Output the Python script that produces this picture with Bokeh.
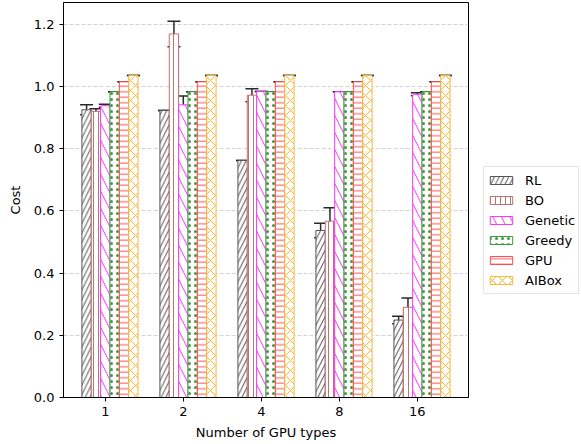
from bokeh.plotting import figure
from bokeh.layouts import row
from bokeh.models import (ColumnDataSource, Range1d, FixedTicker, Legend, LegendItem,
                          Whisker, TeeHead, PrintfTickFormatter)
from bokeh.embed import file_html
from bokeh.resources import INLINE

# ---- data ----
categories = ["1", "2", "4", "8", "16"]
methods = ["RL", "BO", "Genetic", "Greedy", "GPU", "AIBox"]

rl = [0.925, 0.923, 0.762, 0.537, 0.249]
rl_err = [0.016, 0.0, 0.0, 0.023, 0.012]
bo = [0.920, 1.169, 0.972, 0.567, 0.290]
bo_err = [0.008, 0.041, 0.021, 0.043, 0.030]
genetic = [0.938, 0.941, 0.984, 0.983, 0.975]
genetic_err = [0.005, 0.028, 0.0, 0.0, 0.005]
greedy = [0.983, 0.983, 0.983, 0.983, 0.983]
greedy_err = [0.0, 0.0, 0.0, 0.0, 0.0]
gpu = [1.015, 1.015, 1.015, 1.015, 1.015]
gpu_err = [0.0, 0.0, 0.0, 0.0, 0.0]
aibox = [1.035, 1.035, 1.035, 1.035, 1.035]
aibox_err = [0.0, 0.0, 0.0, 0.0, 0.0]

values = [rl, bo, genetic, greedy, gpu, aibox]
errors = [rl_err, bo_err, genetic_err, greedy_err, gpu_err, aibox_err]

# ---- styles ----
colors = ["#555555", "#c07070", "#ff33ff", "#3c9c3c", "#ff4d4d", "#ffb733"]
hatches = ["/", "|", "\\", ".", "-", "x"]
hatch_scales = [9.5, 5, 17, 6, 5.5, 10]
bar_w = 0.12
FONT = "DejaVu Sans"

p = figure(width=470, height=444, output_backend="svg", toolbar_location=None,
           x_range=Range1d(-0.536, 4.656), y_range=Range1d(0, 1.27),
           min_border_left=63, min_border_right=2, min_border_top=2,
           min_border_bottom=47)

p.outline_line_color = "black"
p.outline_line_alpha = 1
p.outline_line_width = 1
p.background_fill_color = "white"
p.border_fill_color = "white"

# legend-only panel on the right (no axes)
pl = figure(width=111, height=444, output_backend="svg", toolbar_location=None,
            x_range=Range1d(0, 1), y_range=Range1d(0, 1),
            x_axis_location=None, y_axis_location=None,
            min_border_left=0, min_border_right=0, min_border_top=0,
            min_border_bottom=0)
pl.grid.visible = False
pl.outline_line_color = None
pl.background_fill_color = "white"
pl.border_fill_color = "white"

items = []
for k, (name, vals, errs) in enumerate(zip(methods, values, errors)):
    xs = [i + (k - 2) * bar_w for i in range(len(categories))]
    src = ColumnDataSource(dict(
        x=xs, top=vals,
        upper=[v + e for v, e in zip(vals, errs)],
        lower=[v - e for v, e in zip(vals, errs)],
    ))
    style = dict(fill_color="white", line_color=colors[k], line_width=1,
                 hatch_pattern=hatches[k], hatch_color=colors[k],
                 hatch_scale=hatch_scales[k], hatch_weight=1)
    p.vbar(x="x", top="top", bottom=0, width=bar_w, source=src, **style)
    w = Whisker(base="x", upper="upper", lower="lower", source=src,
                dimension="height", line_color="#2a2a2a", line_width=1.5,
                upper_head=TeeHead(size=13, line_color="#2a2a2a", line_width=1.5),
                lower_head=TeeHead(size=13, line_color="#2a2a2a", line_width=1.5))
    p.add_layout(w)
    # proxy renderer (outside the visible range) carrying the legend swatch style
    proxy = pl.vbar(x=[5], top=[0], bottom=0, width=0.1, **style)
    items.append(LegendItem(label=name, renderers=[proxy]))

# axes
p.xaxis.ticker = FixedTicker(ticks=list(range(len(categories))))
p.xaxis.major_label_overrides = {i: c for i, c in enumerate(categories)}
p.yaxis.ticker = FixedTicker(ticks=[0.0, 0.2, 0.4, 0.6, 0.8, 1.0, 1.2])
p.yaxis.formatter = PrintfTickFormatter(format="%.1f")
p.xaxis.axis_label = "Number of GPU types"
p.yaxis.axis_label = "Cost"
for ax in (p.xaxis, p.yaxis):
    ax.axis_line_color = "black"
    ax.major_tick_line_color = "black"
    ax.major_tick_in = 0
    ax.major_tick_out = 4
    ax.minor_tick_line_color = None
    ax.major_label_text_font = FONT
    ax.major_label_text_font_size = "13px"
    ax.major_label_text_color = "black"
    ax.axis_label_text_font = FONT
    ax.axis_label_text_font_size = "13px"
    ax.axis_label_text_font_style = "normal"
    ax.axis_label_text_color = "black"
p.xaxis.major_label_standoff = 5
p.xaxis.axis_label_standoff = 6
p.yaxis.major_label_standoff = 5
p.yaxis.axis_label_standoff = 8

p.xgrid.visible = False
p.ygrid.grid_line_color = "#c8c8c8"
p.ygrid.grid_line_dash = "4 2"
p.ygrid.grid_line_width = 0.8

legend = Legend(items=items, location=(13, 103), margin=0, padding=3, spacing=0,
                glyph_width=28, glyph_height=10, label_height=20, label_standoff=10,
                label_text_font=FONT, label_text_font_size="13px",
                label_text_color="black",
                border_line_color="#cccccc", border_line_width=1,
                background_fill_color="white", background_fill_alpha=1)
pl.add_layout(legend)

layout = row(p, pl)
open("out.html", "w").write(file_html(layout, INLINE))
